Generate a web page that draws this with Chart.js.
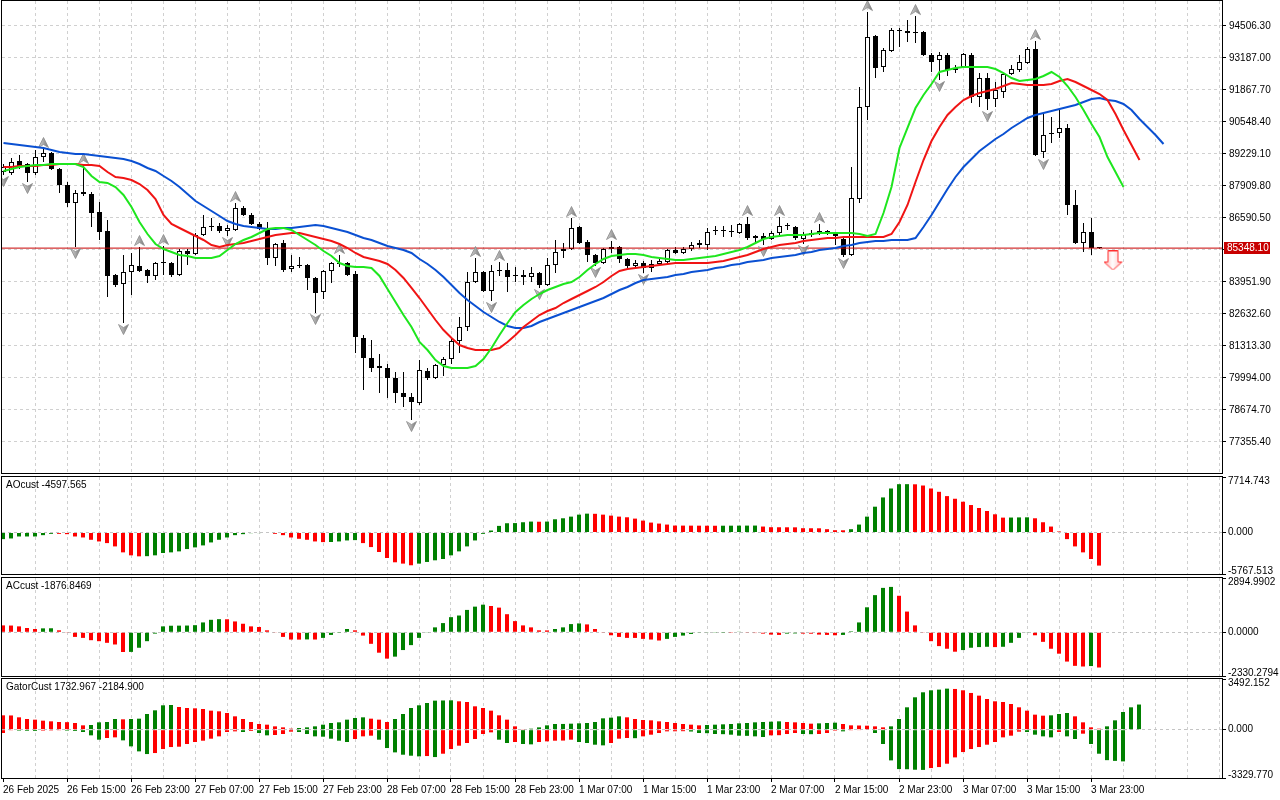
<!DOCTYPE html>
<html><head><meta charset="utf-8">
<script src="https://cdn.jsdelivr.net/npm/chart.js@4.4.1/dist/chart.umd.min.js"></script>
<style>
html,body{margin:0;padding:0;background:#fff;width:1280px;height:800px;overflow:hidden}
canvas{position:absolute;left:0}
</style></head><body>
<canvas id="main" style="top:0px;width:1280px;height:476px" width="1280" height="476"></canvas>
<canvas id="ao" style="top:476px;width:1280px;height:100px" width="1280" height="100"></canvas>
<canvas id="ac" style="top:577px;width:1280px;height:100px" width="1280" height="100"></canvas>
<canvas id="gator" style="top:678px;width:1280px;height:122px" width="1280" height="122"></canvas>
<script>
// ================= DATA =================
const timeLabels = ['26 Feb 2025','26 Feb 15:00','26 Feb 23:00','27 Feb 07:00','27 Feb 15:00','27 Feb 23:00','28 Feb 07:00','28 Feb 15:00','28 Feb 23:00','1 Mar 07:00','1 Mar 15:00','1 Mar 23:00','2 Mar 07:00','2 Mar 15:00','2 Mar 23:00','3 Mar 07:00','3 Mar 15:00','3 Mar 23:00'];
const priceTicks = [94506.30,93187.00,91867.70,90548.40,89229.10,87909.80,86590.50,85271.20,83951.90,82632.60,81313.30,79994.00,78674.70,77355.40];

const opens = [88487,88445,88940,88816,88445,89104,89269,88610,87951,87208,
87662,87579,86838,86054,84240,83869,84364,84611,84446,84199,
84734,84734,84240,85230,85106,85889,86218,86260,86054,86095,
87003,86714,86342,86136,84941,85559,84487,84611,84652,84117,
83539,84405,84734,84734,84281,81642,80817,80488,80405,79993,
79374,79209,78962,80282,79993,80529,80776,81519,82095,83951,
84364,83580,84405,84446,84199,84240,84157,84323,83828,84652,
85230,85312,86218,85600,85065,84734,85312,85394,84899,84611,
84734,84528,84693,84776,85271,85147,85312,85559,85477,86054,
86054,86013,85971,86342,85765,85848,85724,85971,86260,86218,
85724,85889,85971,86054,85930,85724,85065,87373,91166,94094,
92816,93475,94300,94300,94258,94258,93310,93104,93310,92775,
92816,93310,91578,92362,91496,91785,92527,92692,92981,93558,
89311,90053,90094,90301,87126,85559,86013,85360];
const highs = [88816,89063,89187,88857,89393,89435,89311,88651,88075,87744,
88775,87662,87250,86507,84281,85065,85147,85394,84487,84776,
85436,84776,85312,85312,85971,86714,86589,86383,86301,87208,
87085,86796,86425,86425,85559,85683,85065,84982,84693,84157,
84446,84776,85065,84776,84405,81766,81560,80982,80570,80241,
80241,79374,80735,80405,80570,80859,81683,82508,84364,84941,
84405,84652,84776,84734,84569,84446,84569,84364,84941,85683,
85559,86589,86260,85683,85106,85353,85642,85436,84941,84858,
84817,84858,84941,85312,85394,85394,85600,85683,86177,86260,
86260,86301,86383,86631,85889,85971,86054,86631,86383,86260,
86013,86095,86342,86095,85971,85765,88692,91991,95083,94135,
93599,94423,94423,94753,94918,94300,93392,93434,93392,92898,
93392,93392,92568,92568,92197,92568,92898,93310,93640,93888,
90919,90754,91043,90466,87744,86383,86589,85394];
const lows = [88363,88363,88610,88075,88363,88899,88569,87620,87043,85394,
87497,86218,85683,83332,83745,82260,83415,84364,83910,84034,
84240,84157,84199,84652,85065,85848,86054,85971,85848,86054,
86673,86301,86095,84652,84611,84364,84364,84528,83621,82673,
83250,83910,84569,84199,81023,79498,80241,79374,79168,78962,
78797,78261,78880,79911,79952,80076,80570,81023,81931,83910,
83539,83168,84199,83539,83951,83828,83951,83704,83786,84323,
84941,85271,85518,84776,84611,84693,85147,84734,84528,84487,
84323,84364,84652,84734,85106,85106,85230,85353,85271,85889,
85806,85806,85930,85683,85559,85477,85683,85889,86095,85683,
85518,85806,85889,85889,85477,84982,85024,87208,90630,92362,
92610,93434,93640,93846,93805,93269,92610,92280,92445,92568,
92775,91331,91166,91043,91166,91537,92486,92610,92940,89146,
89063,89682,89888,86714,85518,85189,85065,85312];
const closes = [88692,88899,88734,88445,89104,89269,88610,87951,87208,87620,
87579,86796,86013,84199,83828,84364,84652,84405,84199,84734,
84734,84240,85230,85106,85889,86218,86218,86054,86177,87003,
86714,86342,86136,84941,85518,84446,84611,84611,84117,83497,
84405,84734,84693,84240,81683,80817,80405,80405,79993,79374,
79209,79004,80323,79993,80529,80776,81519,82095,83951,84364,
83580,84405,84405,84157,84199,84157,84323,83828,84652,85189,
85312,86177,85559,85065,84734,85312,85394,84899,84611,84734,
84528,84693,84817,85271,85147,85312,85477,85477,86013,86054,
86054,86013,86342,85765,85848,85724,85971,86260,86260,85765,
85889,85971,86054,85971,85848,85065,87414,91166,94052,92775,
93516,94341,94300,94217,94217,93310,93022,93310,92692,92692,
93351,91578,92362,91496,91867,92527,92733,93022,93558,89187,
90012,90094,90301,87126,85559,86013,85353,85348.10];

// Alligator lines (already shifted: jaw +8, teeth +5, lips +3 bars)
const jaw = [89682,89641,89600,89559,89517,89476,89393,89311,89269,89228,
89228,89187,89146,89104,89063,89022,88940,88816,88651,88528,
88322,88116,87868,87579,87291,87085,86879,86673,86466,86342,
86260,86218,86177,86136,86136,86177,86177,86218,86260,86301,
86260,86177,86095,86013,85889,85765,85683,85559,85436,85353,
85271,85147,84899,84693,84446,84157,83828,83497,83209,82962,
82714,82508,82302,82137,82054,82054,82137,82302,82426,82550,
82673,82797,82921,83044,83168,83291,83456,83621,83745,83910,
84034,84075,84117,84157,84240,84281,84364,84405,84446,84528,
84569,84652,84693,84776,84817,84858,84941,84982,85024,85065,
85147,85189,85271,85312,85353,85436,85477,85559,85600,85642,
85642,85683,85683,85683,85765,86218,86714,87250,87785,88281,
88692,89022,89352,89600,89847,90053,90301,90507,90713,90837,
90919,91002,91084,91166,91249,91372,91496,91537,91455,91414,
91290,91043,90671,90342,90012,89641];
const teeth = [88692,88692,88734,88734,88734,88775,88775,88816,88816,88816,
88775,88775,88734,88487,88281,88240,88157,87992,87744,87373,
86714,86342,86177,86013,85848,85683,85477,85394,85477,85518,
85559,85642,85724,85806,85889,85930,85971,85971,85889,85806,
85724,85642,85518,85353,85147,84982,84899,84817,84693,84446,
84117,83704,83291,82838,82384,81972,81642,81353,81230,81147,
81147,81147,81230,81477,81766,82095,82343,82590,82755,82879,
83085,83250,83415,83580,83745,83951,84199,84405,84487,84528,
84569,84611,84652,84693,84734,84734,84734,84734,84734,84776,
84817,84899,84982,85065,85189,85312,85394,85477,85518,85559,
85642,85683,85724,85765,85765,85806,85806,85806,85806,85806,
85806,85930,86425,87126,88075,88981,89765,90342,90837,91166,
91455,91620,91744,91826,91908,92032,92156,92115,92074,92074,
92074,92115,92239,92321,92197,92032,91867,91702,91455,90878,
90218,89600,88981];
const lips = [88528,88610,88692,88734,88775,88775,88816,88816,88816,88816,
88692,88322,88075,88034,87868,87538,87043,86425,85930,85518,
85312,85189,85065,85024,84941,84941,84941,85024,85271,85518,
85683,85806,85971,86136,86177,86177,86095,85889,85683,85477,
85230,85024,84734,84611,84569,84569,84528,84199,83663,83127,
82590,82095,81477,81147,80735,80488,80405,80405,80405,80488,
80776,81230,81766,82261,82714,83003,83250,83456,83621,83745,
83869,83951,84157,84446,84693,84899,85024,85065,85106,85106,
85065,84982,84941,84899,84858,84858,84899,84941,84982,85024,
85106,85189,85271,85394,85559,85724,85806,85848,85889,85889,
85889,85930,85971,85971,85971,85971,85971,85930,85848,85930,
86796,87868,89476,90301,91125,91661,92115,92610,92692,92775,
92816,92816,92816,92816,92733,92568,92362,92239,92280,92321,
92445,92610,92404,92032,91578,91043,90466,89929,89104,88487,
87868];

const fractalUp = [5,10,17,20,29,42,59,62,71,76,93,97,102,108,114,129];
const fractalDown = [0,3,9,15,28,39,51,61,67,74,80,95,100,105,117,123,130];
const sellSignalBar = [139];
const sellSignalPrice = [84838];

const ao = [-920,-828,-552,-552,-552,-368,-184,-190,-230,-552,
-690,-1012,-1242,-1472,-1932,-2760,-3174,-3312,-3290,-3174,
-2852,-2760,-2622,-2300,-2070,-1794,-1380,-1012,-690,-368,
-230,-92,-80,-70,-184,-368,-690,-874,-1012,-1242,
-1334,-1320,-1242,-1104,-1058,-1472,-2024,-2714,-3542,-4140,
-4324,-4554,-4324,-4094,-3864,-3680,-3174,-2622,-1932,-1104,
-184,276,920,1288,1310,1426,1518,1500,1518,1840,
1978,2208,2484,2622,2600,2484,2346,2208,2116,1932,
1656,1380,1242,1104,966,960,955,950,945,940,
945,950,955,960,965,828,736,730,725,720,
598,590,585,460,322,310,460,1104,2208,3588,
4876,6118,6716,6720,6700,6532,6118,5658,5060,4692,
4278,3818,3404,2990,2530,2070,2080,2100,2110,1978,
1426,828,138,-920,-1932,-2760,-3680,-4597.565];
const ac = [368,360,316,228,175,210,215,105,-35,-246,
-298,-421,-474,-561,-650,-1052,-1045,-824,-474,-70,
316,350,355,360,380,526,666,700,695,579,
456,316,281,105,-20,-246,-386,-390,-380,-386,
-298,-140,-10,175,105,-175,-614,-1088,-1403,-1298,
-947,-684,-298,-35,263,491,807,895,1193,1368,
1473,1403,1316,965,596,368,263,105,100,175,
263,438,473,421,175,-35,-158,-246,-298,-300,
-351,-386,-438,-351,-246,-175,-88,-35,-20,-15,
-10,-12,35,-35,-40,-70,-123,-140,-70,-60,
-70,-75,-123,-140,-158,-140,53,526,1333,1982,
2368,2420,1947,1105,368,-35,-474,-737,-877,-1035,
-947,-824,-789,-772,-789,-772,-561,-298,-20,-158,
-509,-877,-1140,-1561,-1789,-1824,-1800,-1876.8469];
const gatorUp = [989,980,851,736,690,621,575,529,518,460,
299,322,506,529,736,713,736,759,1081,1334,
1679,1702,1564,1495,1472,1426,1311,1265,1150,920,
736,529,391,345,230,161,69,115,161,230,
345,460,506,690,805,851,759,690,529,736,
1081,1495,1679,1840,2001,2013,2024,1955,1909,1610,
1495,1311,989,690,230,46,69,161,299,391,
395,414,437,460,529,782,828,920,851,736,
667,644,575,529,460,391,345,299,322,345,
368,391,437,460,506,529,552,575,529,506,
460,414,437,460,483,391,299,288,276,230,
161,230,736,1541,2231,2576,2714,2760,2829,2806,
2714,2530,2346,2116,1955,1909,1771,1541,1311,1035,
966,989,1081,1150,920,506,161,69,230,644,
1219,1541,1732.967];
const gatorDown = [-230,-46,-69,-81,-92,-69,-58,-46,-69,-92,
-161,-391,-690,-575,-529,-736,-1150,-1495,-1679,-1610,
-1334,-1196,-1173,-989,-851,-759,-621,-460,-161,-115,
-161,-92,-230,-391,-368,-299,-138,-161,-299,-460,
-483,-621,-759,-851,-644,-460,-414,-690,-1265,-1564,
-1725,-1794,-1840,-1817,-1886,-1656,-1334,-1104,-920,-644,
-299,-184,-690,-920,-851,-989,-1012,-851,-805,-759,
-750,-690,-851,-920,-1035,-1081,-920,-621,-575,-586,
-460,-345,-230,-115,-110,-104,-127,-230,-241,-299,
-310,-345,-414,-425,-460,-506,-391,-380,-299,-230,
-299,-310,-299,-230,-69,-115,-46,-40,-35,-230,
-989,-2116,-2714,-2726,-2760,-2772,-2645,-2576,-2346,-1909,
-1541,-1334,-1196,-1035,-851,-529,-414,-138,-161,-345,
-460,-529,-161,-460,-644,-276,-989,-1656,-2100,-2150,
-2184.900];

const aoRange = [-5767.513, 7714.743];
const acRange = [-2330.2794, 2894.9902];
const gatorRange = [-3329.770, 3492.152];

// ================= STYLE / LAYOUT =================
const FONT = {family: "'Liberation Sans', Arial, sans-serif", size: 10};
Chart.defaults.font = FONT;
Chart.defaults.color = '#000';
const GRID = '#d0d0d0';
const HGREEN = '#008000', HRED = '#ff0000';
const BAR_SPAN = 152.5;
const X_MIN_MAIN = -0.1875, X_MIN_SUB = -0.125;
const PRICE_MIN = 76076.2, PRICE_MAX = 95536.8;
const gridBars = Array.from({length: 39}, (_, i) => i * 4);
const lastClose = closes[closes.length - 1];

function trendColors(vals, first, useAbs) {
  return vals.map((v, i) => {
    if (i === 0) return first;
    const a = useAbs ? Math.abs(v) : v, b = useAbs ? Math.abs(vals[i - 1]) : vals[i - 1];
    return a < b ? HRED : HGREEN;
  });
}

function makeFractalImg(up) {
  const c = document.createElement('canvas'); c.width = 11; c.height = 24;
  const g = c.getContext('2d');
  if (!up) { g.translate(0, 24); g.scale(1, -1); }
  g.beginPath(); g.moveTo(5.5, 0.5); g.lineTo(10.5, 10.5); g.lineTo(5.5, 7.5); g.lineTo(0.5, 10.5); g.closePath();
  const gr = g.createLinearGradient(0, 0, 11, 0);
  gr.addColorStop(0, '#d6d6d6'); gr.addColorStop(0.5, '#a8a8a8'); gr.addColorStop(1, '#707070');
  g.fillStyle = gr; g.fill();
  g.strokeStyle = '#8c8c8c'; g.lineWidth = 0.8; g.stroke();
  return c;
}
function makeSellImg() {
  const c = document.createElement('canvas'); c.width = 24; c.height = 20;
  const g = c.getContext('2d');
  g.beginPath();
  g.moveTo(4.5, 0.5); g.lineTo(14.5, 0.5); g.lineTo(14.5, 11.5); g.lineTo(18.5, 11.5);
  g.lineTo(9.5, 19.5); g.lineTo(0.5, 11.5); g.lineTo(4.5, 11.5); g.closePath();
  const gr = g.createLinearGradient(0, 0, 18, 0);
  gr.addColorStop(0, '#ffb0b0'); gr.addColorStop(0.5, '#ffffff'); gr.addColorStop(1, '#ffc8c8');
  g.fillStyle = gr; g.fill();
  g.strokeStyle = '#ff3030'; g.lineWidth = 1; g.stroke();
  return c;
}

function xScale(xMin, showLabels) {
  return {
    type: 'linear', min: xMin, max: xMin + BAR_SPAN, offset: false, position: 'bottom',
    afterBuildTicks: s => { s.ticks = gridBars.map(v => ({value: v})); },
    afterFit: s => { s.height = showLabels ? 22 : 0; s.paddingLeft = 0; s.paddingRight = 0; },
    grid: {
      offset: false, drawOnChartArea: true, drawTicks: showLabels, tickLength: 4, lineWidth: 1,
      color: c => (c.tick && c.tick.value > 0) ? GRID : 'rgba(0,0,0,0)',
      tickColor: c => (c.tick && c.tick.value % 8 === 0 && c.tick.value / 8 < timeLabels.length) ? '#000' : 'rgba(0,0,0,0)'
    },
    border: {display: false, dash: [3, 3]},
    ticks: {
      display: showLabels, autoSkip: false, maxRotation: 0, minRotation: 0, align: 'start', padding: 2,
      color: '#000', font: FONT,
      callback: v => (v % 8 === 0 && timeLabels[v / 8]) ? timeLabels[v / 8] : ''
    }
  };
}

function subY(range) {
  return {
    position: 'right', min: range[0], max: range[1],
    afterBuildTicks: s => { s.ticks = [{value: range[0]}, {value: 0}, {value: range[1]}]; },
    afterFit: s => { s.width = 58; s.paddingTop = 0; s.paddingBottom = 0; },
    grid: {
      drawTicks: true, tickLength: 4, tickColor: '#000', lineWidth: 1,
      color: c => (c.tick && c.tick.value === 0) ? '#c4c4c4' : 'rgba(0,0,0,0)'
    },
    border: {display: false, dash: [3, 3]},
    ticks: {display: false}
  };
}

const panelDeco = {
  id: 'panelDeco',
  afterDraw(chart, args, o) {
    const {ctx, chartArea: a} = chart;
    ctx.save();
    ctx.setLineDash([]);
    ctx.strokeStyle = '#000'; ctx.lineWidth = 1;
    const L = Math.round(a.left) - 0.5, T = Math.round(a.top) - 0.5, R = Math.round(a.right) + 0.5, B = Math.round(a.bottom) + 0.5;
    ctx.strokeRect(L, T, R - L, B - T);
    ctx.font = "10px 'Liberation Sans', Arial, sans-serif";
    ctx.fillStyle = '#000'; ctx.textAlign = 'left';
    if (o.title) { ctx.textBaseline = 'top'; ctx.fillText(o.title, 6, a.top + 3); }
    if (o.range) {
      const x = Math.round(a.right) + 6, d = o.digits;
      ctx.textBaseline = 'top'; ctx.fillText(o.range[1].toFixed(d), x, a.top - 1);
      ctx.textBaseline = 'middle'; ctx.fillText((0).toFixed(d), x, chart.scales.y.getPixelForValue(0));
      ctx.textBaseline = 'bottom'; ctx.fillText(o.range[0].toFixed(d), x, a.bottom + 2);
    }
    if (o.priceBox) {
      const py = Math.round(chart.scales.y.getPixelForValue(lastClose));
      ctx.fillStyle = '#c80000';
      ctx.fillRect(Math.round(a.right) + 2, py - 6, 46, 12);
      ctx.fillStyle = '#ffffff'; ctx.textBaseline = 'middle';
      ctx.fillText(lastClose.toFixed(2), Math.round(a.right) + 5, py + 0.5);
    }
    ctx.restore();
  }
};
Chart.register(panelDeco);

function baseOptions(xMin, showX, yCfg, padding, deco) {
  return {
    responsive: false, animation: false, events: [], devicePixelRatio: 1,
    layout: {padding, autoPadding: false},
    plugins: {legend: {display: false}, tooltip: {enabled: false}, panelDeco: deco},
    scales: {x: xScale(xMin, showX), y: yCfg}
  };
}

// ================= MAIN CHART =================
const idx = closes.map((_, i) => i);
const upImg = makeFractalImg(true), downImg = makeFractalImg(false), sellImg = makeSellImg();
const lineDs = (arr, color, order) => ({
  type: 'line', data: arr.map((v, i) => ({x: i, y: v})), borderColor: color, borderWidth: 2,
  pointRadius: 0, tension: 0, fill: false, order
});

new Chart(document.getElementById('main'), {
  type: 'bar',
  data: {datasets: [
    {type: 'line', data: sellSignalBar.map((b, i) => ({x: b, y: sellSignalPrice[i]})), showLine: false,
     pointStyle: sellImg, pointRadius: 6, order: 0},
    lineDs(lips, '#1ee61e', 1),
    lineDs(teeth, '#f01414', 2),
    lineDs(jaw, '#0a50d2', 3),
    {type: 'line', data: fractalUp.map(i => ({x: i, y: highs[i]})), showLine: false,
     pointStyle: upImg, pointRadius: 6, order: 4},
    {type: 'line', data: fractalDown.map(i => ({x: i, y: lows[i]})), showLine: false,
     pointStyle: downImg, pointRadius: 6, order: 4},
    {type: 'line', data: [{x: X_MIN_MAIN, y: lastClose}, {x: X_MIN_MAIN + BAR_SPAN, y: lastClose}],
     borderColor: '#c80000', borderWidth: 1, pointRadius: 0, order: 4.5},
    {type: 'bar', data: idx.map(i => ({x: i, y: [opens[i], closes[i]]})), grouped: false,
     barThickness: 5, minBarLength: 1, borderWidth: 1, borderColor: '#000', borderSkipped: false, inflateAmount: 0,
     backgroundColor: c => closes[c.dataIndex] > opens[c.dataIndex] ? '#ffffff' : '#000000', order: 5},
    {type: 'bar', data: idx.map(i => ({x: i, y: [lows[i], highs[i]]})), grouped: false,
     barThickness: 1, borderWidth: 0, borderSkipped: false, inflateAmount: 0, backgroundColor: '#000', order: 6}
  ]},
  options: baseOptions(X_MIN_MAIN, false, {
    position: 'right', min: PRICE_MIN, max: PRICE_MAX,
    afterBuildTicks: s => { s.ticks = priceTicks.map(v => ({value: v})); },
    afterFit: s => { s.width = 58; s.paddingTop = 0; s.paddingBottom = 0; },
    grid: {drawTicks: true, tickLength: 4, tickColor: '#000', color: GRID, lineWidth: 1},
    border: {display: false, dash: [3, 3]},
    ticks: {padding: 3, color: '#000', font: FONT,
      callback: v => Math.abs(v - lastClose) < 400 ? '' : v.toFixed(2)}
  }, {top: 1, bottom: 3, left: 2, right: 0}, {priceBox: true})
});

// ================= SUB PANELS =================
function histDs(vals, colors, order) {
  return {type: 'bar', data: vals.map((v, i) => ({x: i, y: v})), grouped: false, barThickness: 4,
    borderWidth: 0, inflateAmount: 0, backgroundColor: colors, order};
}

new Chart(document.getElementById('ao'), {
  type: 'bar',
  data: {datasets: [histDs(ao, trendColors(ao, HGREEN, false), 0)]},
  options: baseOptions(X_MIN_SUB, false, subY(aoRange), {top: 1, bottom: 2, left: 2, right: 0},
    {title: 'AOcust ' + ao[ao.length - 1].toFixed(3), range: aoRange, digits: 3})
});

new Chart(document.getElementById('ac'), {
  type: 'bar',
  data: {datasets: [histDs(ac, trendColors(ac, HRED, false), 0)]},
  options: baseOptions(X_MIN_SUB, false, subY(acRange), {top: 1, bottom: 1, left: 2, right: 0},
    {title: 'ACcust ' + ac[ac.length - 1].toFixed(4), range: acRange, digits: 4})
});

new Chart(document.getElementById('gator'), {
  type: 'bar',
  data: {datasets: [
    histDs(gatorUp, trendColors(gatorUp, HRED, true), 0),
    histDs(gatorDown, trendColors(gatorDown, HRED, true), 1)
  ]},
  options: baseOptions(X_MIN_SUB, true, subY(gatorRange), {top: 1, bottom: 0, left: 2, right: 0},
    {title: 'GatorCust ' + gatorUp[gatorUp.length - 1].toFixed(3) + ' ' + gatorDown[gatorDown.length - 1].toFixed(3), range: gatorRange, digits: 3})
});
</script>
</body></html>
